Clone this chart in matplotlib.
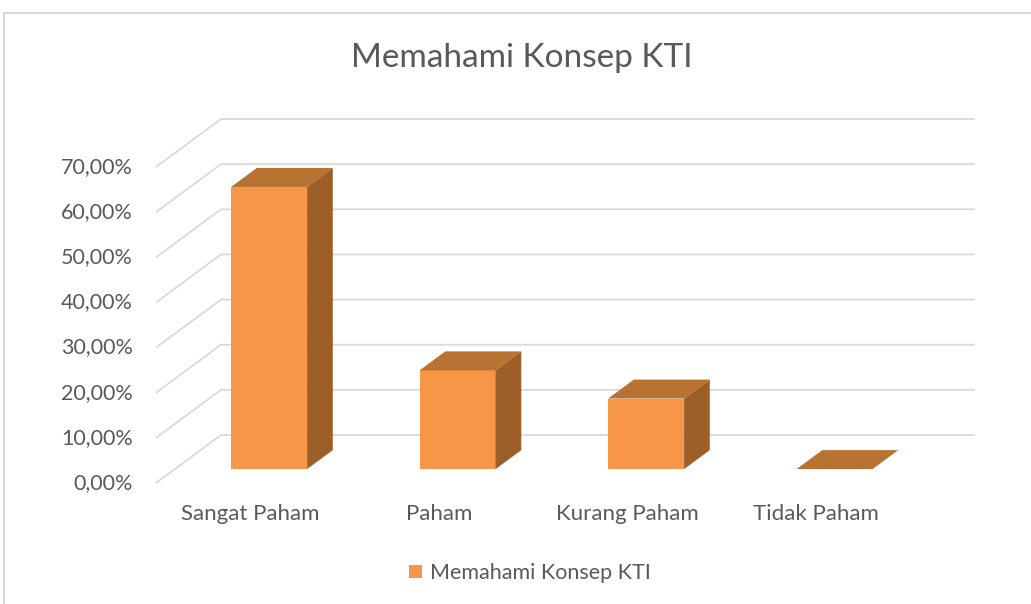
import numpy as np
import matplotlib.pyplot as plt
from matplotlib.patches import Polygon, Rectangle

# data
categories = ["Sangat Paham", "Paham", "Kurang Paham", "Tidak Paham"]
values = [0.625, 0.21875, 0.15625, 0.0]
ticks = [0.0, 0.1, 0.2, 0.3, 0.4, 0.5, 0.6, 0.7]
series_name = "Memahami Konsep KTI"

plt.rcParams['font.family'] = ['Lato', 'DejaVu Sans']
text_col = "#595959"
grid_col = "#d9d9d9"
front_col = "#f79646"
top_col = "#b87333"
side_col = "#9c5f2a"

fig = plt.figure(figsize=(10.31, 6.04), dpi=100)
ax = fig.add_axes([0, 0, 1, 1])
ax.axis("off")

# pixel layout of the plot box -> data limits
px_cat = 188.5          # pixels per category
px_val = 451.4          # pixels per 1.0 (100%)
x_left_px, y0_px = 156, 483
ax.set_xlim(-0.5 - x_left_px / px_cat, 3.5 + (1031 - x_left_px - 4 * px_cat) / px_cat)
ax.set_ylim((y0_px - 604) / px_val, y0_px / px_val)

# oblique depth offset (full depth of the floor)
ddx = 65 / px_cat
ddy = 48 / px_val
t0, t1 = 0.29, 0.685
bar_w = 76 / px_cat

# gridlines: left wall diagonal + back wall horizontal
x_wall = -0.5
x_back_end = 3.5 + ddx
for v in ticks:
    ax.plot([x_wall, x_wall + ddx, x_back_end], [v, v + ddy, v + ddy],
            color=grid_col, lw=1.3, zorder=1, solid_capstyle="butt")
    ax.text(x_wall - 23 / px_cat, v, f"{v * 100:.2f}%".replace(".", ","),
            ha="right", va="center", fontsize=15.5, color=text_col)

# bars: front face through ax.bar, top and side faces as polygons
x = np.arange(len(categories))
xf = x + t0 * ddx
base = t0 * ddy
bars = ax.bar(xf, values, width=bar_w, bottom=base, color=front_col,
              zorder=3, label=series_name)
dx = (t1 - t0) * ddx
dy = (t1 - t0) * ddy
for xc, v in zip(xf, values):
    xl, xr = xc - bar_w / 2, xc + bar_w / 2
    top = base + v
    ax.add_patch(Polygon([(xl, top), (xr, top), (xr + dx, top + dy), (xl + dx, top + dy)],
                         closed=True, color=top_col, zorder=4, lw=0))
    if v > 0:
        ax.add_patch(Polygon([(xr, base), (xr, top), (xr + dx, top + dy), (xr + dx, base + dy)],
                             closed=True, color=side_col, zorder=4, lw=0))

# category labels on the front edge of the floor
for xi, name in zip(x, categories):
    ax.text(xi, -31 / px_val, name, ha="center", va="center",
            fontsize=16, color=text_col)

# title
fig.text(522 / 1031, 1 - 58 / 604, series_name, ha="center", va="center",
         fontsize=24, color=text_col)

# legend
leg = fig.legend(handles=[bars], loc="center", bbox_to_anchor=(530 / 1031, 1 - 573 / 604),
                 frameon=False, fontsize=15.5, handlelength=0.6, handleheight=0.6,
                 handletextpad=0.35, labelcolor=text_col)

# chart area border
fig.add_artist(Rectangle((4 / 1031, -0.1), 1.1, (604 - 13) / 604 + 0.1,
                         transform=fig.transFigure, fill=False, ec=grid_col, lw=1.5))

fig.savefig("out.png", dpi=100)
